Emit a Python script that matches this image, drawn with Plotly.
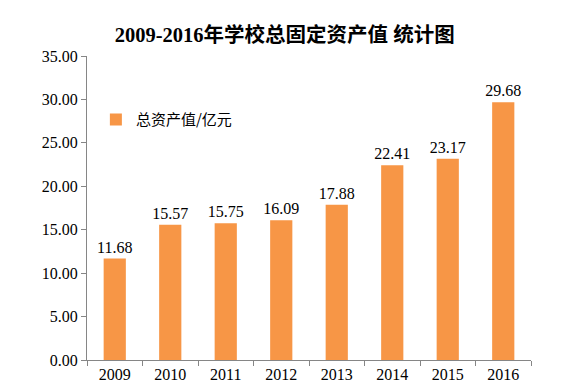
import plotly.graph_objects as go

years = ["2009", "2010", "2011", "2012", "2013", "2014", "2015", "2016"]
values = [11.68, 15.57, 15.75, 16.09, 17.88, 22.41, 23.17, 29.68]
y_ticks = [0, 5, 10, 15, 20, 25, 30, 35]
series_name = "总资产值/亿元"
title_text = "2009-2016年学校总固定资产值 统计图"

serif = "Liberation Serif, Times New Roman, Noto Sans CJK SC, serif"

fig = go.Figure()
fig.add_trace(go.Bar(
    x=years, y=values, name=series_name,
    marker=dict(color="#F79646", line=dict(width=0)),
    width=0.4,
    text=[f"{v:.2f}" for v in values],
    textposition="outside",
    constraintext="none",
    textfont=dict(family=serif, size=16, color="#000000"),
    cliponaxis=False,
    showlegend=True,
))

fig.update_layout(
    width=565, height=391,
    margin=dict(l=87, r=34, t=56, b=31, autoexpand=False),
    paper_bgcolor="white", plot_bgcolor="white",
    title=dict(text="<b>" + title_text + "</b>", x=0.504, xanchor="center",
               y=0.91, yanchor="middle",
               font=dict(family=serif, size=20.5, color="#000000")),
    legend=dict(x=0.02, y=0.79, xanchor="left", yanchor="middle",
                bgcolor="rgba(0,0,0,0)",
                font=dict(family="Noto Sans CJK SC, sans-serif", size=15, color="#000000"),
                itemwidth=30),
    bargap=0.6,
    xaxis=dict(
        type="category", tickson="boundaries", ticks="outside", ticklen=5,
        tickcolor="#868686", showline=True, linecolor="#868686", linewidth=1,
        showgrid=False, automargin=False,
        tickfont=dict(family=serif, size=16, color="#000000"),
    ),
    yaxis=dict(
        range=[0, 35], tickvals=y_ticks, ticktext=[f"{v:.2f}" for v in y_ticks],
        ticks="outside", ticklen=5, tickcolor="#868686",
        showline=True, linecolor="#868686", linewidth=1,
        showgrid=False, zeroline=False, automargin=False,
        tickfont=dict(family=serif, size=16, color="#000000"),
    ),
)

fig.write_html("out.html", config={"displayModeBar": False},
               post_script="document.body.style.margin='0';document.body.style.padding='0';")
